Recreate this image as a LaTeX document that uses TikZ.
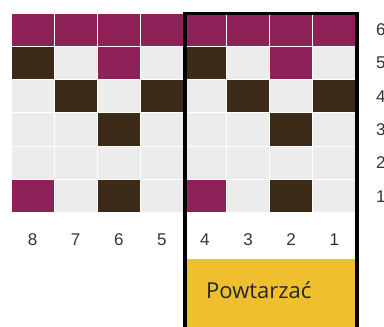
\documentclass[tikz,border=0pt]{standalone}
\usepackage{fontspec}
\setmainfont{Liberation Sans}
\newfontfamily\repfont{Open Sans}
\definecolor{plum}{HTML}{8E2157}
\definecolor{bark}{HTML}{3B2A17}
\definecolor{paper}{HTML}{ECECEC}
\definecolor{mustard}{HTML}{F0BF2F}
\definecolor{ink}{HTML}{333333}
\tikzset{
  cell/.style={draw=white,line width=0.9pt,minimum width=43.1pt,minimum height=33.3pt,inner sep=0pt},
  num/.style={text=ink,font=\fontsize{17}{17}\selectfont,inner sep=0pt}
}
\begin{document}
\begin{tikzpicture}[x=1pt,y=-1pt]
\useasboundingbox (0,0) rectangle (384,327);

% grid, rows from top (6) to bottom (1), columns from left (8) to right (1)
\foreach \pat [count=\j] in {
  {plum,plum,plum,plum,plum,plum,plum,plum},
  {bark,paper,plum,paper,bark,paper,plum,paper},
  {paper,bark,paper,bark,paper,bark,paper,bark},
  {paper,paper,bark,paper,paper,paper,bark,paper},
  {paper,paper,paper,paper,paper,paper,paper,paper},
  {plum,paper,bark,paper,plum,paper,bark,paper}}
  \foreach \c [count=\i] in \pat
    \node[cell,fill=\c] (c\i-\j) at ({11+43.1*(\i-0.5)},{13+33.3*(\j-0.5)}) {};

% column numbers
\foreach \i in {1,...,8}{
  \pgfmathtruncatemacro\k{9-\i}
  \node[num] (col\k) at ({11+43.1*(\i-0.5)},240) {\k};
}
% row numbers
\foreach \j in {1,...,6}{
  \pgfmathtruncatemacro\k{7-\j}
  \node[num,anchor=west] (row\k) at (376,{13+33.3*(\j-0.5)}) {\k};
}

% repeat box
\fill[mustard] (183,259) rectangle (358,330);
\node[anchor=base west,inner sep=0pt,text=black!85,font=\repfont\fontsize{22}{22}\selectfont] (rep) at (206,298) {Powtarzać};
\draw[line width=3.6pt] (185,330) -- (185,13.5) -- (357,13.5) -- (357,330);
\end{tikzpicture}
\end{document}
